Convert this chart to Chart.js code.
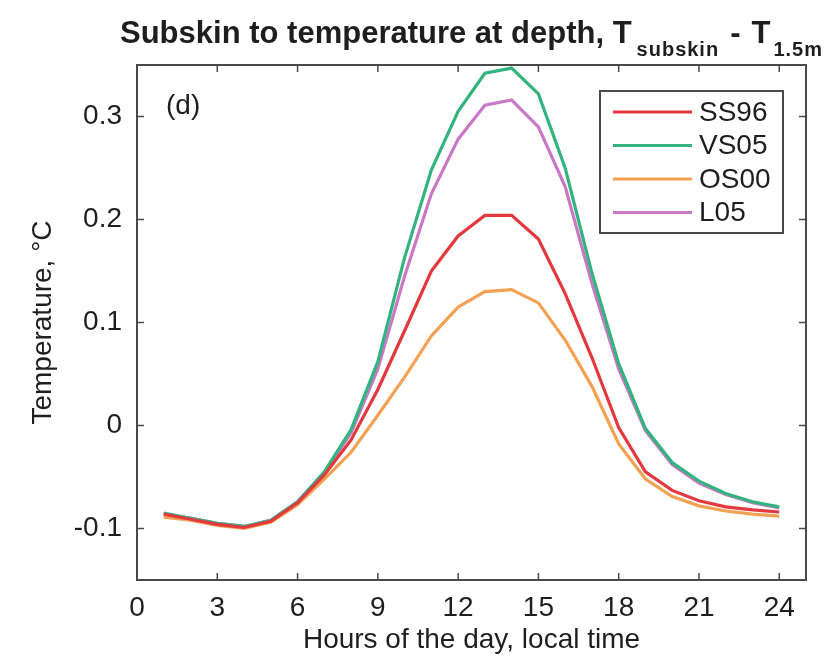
<!DOCTYPE html>
<html>
<head>
<meta charset="utf-8">
<title>Subskin to temperature at depth</title>
<script src="https://cdn.jsdelivr.net/npm/chart.js@4.4.1/dist/chart.umd.min.js"></script>
<style>
  html, body { margin: 0; padding: 0; background: #fff; }
  #wrap { width: 828px; height: 661px; }
</style>
</head>
<body>
<div id="wrap"><canvas id="chart" width="828" height="661"></canvas></div>
<script>
// data, hourly values (local time)
const hours = [1, 2, 3, 4, 5, 6, 7, 8, 9, 10, 11, 12, 13, 14, 15, 16, 17, 18, 19, 20, 21, 22, 23, 24];
const xTicks = [0, 3, 6, 9, 12, 15, 18, 21, 24];
const yTicks = [-0.1, 0, 0.1, 0.2, 0.3];
const seriesNames = ['SS96', 'VS05', 'OS00', 'L05'];

const ss96 = [-0.086, -0.091, -0.096, -0.099, -0.093, -0.075, -0.048, -0.014, 0.035, 0.092, 0.150, 0.184,
              0.204, 0.204, 0.181, 0.128, 0.066, -0.002, -0.045, -0.063, -0.073, -0.079, -0.082, -0.084];
const vs05 = [-0.085, -0.090, -0.095, -0.098, -0.092, -0.074, -0.045, -0.004, 0.062, 0.163, 0.248, 0.305,
              0.342, 0.347, 0.322, 0.250, 0.148, 0.060, -0.003, -0.036, -0.054, -0.066, -0.074, -0.079];
const os00 = [-0.089, -0.092, -0.097, -0.100, -0.094, -0.077, -0.052, -0.026, 0.010, 0.047, 0.087, 0.115,
              0.130, 0.132, 0.119, 0.083, 0.038, -0.018, -0.052, -0.069, -0.078, -0.083, -0.086, -0.088];
const l05  = [-0.086, -0.090, -0.095, -0.098, -0.092, -0.074, -0.046, -0.007, 0.055, 0.145, 0.225, 0.278,
              0.311, 0.316, 0.290, 0.232, 0.138, 0.055, -0.005, -0.038, -0.056, -0.067, -0.075, -0.080];

const colors = ['#e4383f', '#33b47f', '#f3a253', '#c978c6'];
const FONT = '"Liberation Sans", Arial, Helvetica, sans-serif';
const INK = '#1e1e1e';
const FRAME = '#4a4a4a';
const FS = 28;

function toPoints(vals) {
    return hours.map((h, i) => ({ x: h, y: vals[i] }));
}

// matlab-style box with inward ticks on all four sides
const boxFrame = {
    id: 'boxFrame',
    afterDatasetsDraw(chart) {
        const { ctx, chartArea: a, scales } = chart;
        const tl = 7;
        ctx.save();
        ctx.strokeStyle = FRAME;
        ctx.lineWidth = 2;
        ctx.strokeRect(a.left, a.top, a.right - a.left, a.bottom - a.top);
        ctx.lineWidth = 1.5;
        ctx.beginPath();
        scales.x.ticks.forEach(t => {
            const px = scales.x.getPixelForValue(t.value);
            ctx.moveTo(px, a.bottom); ctx.lineTo(px, a.bottom - tl);
            ctx.moveTo(px, a.top); ctx.lineTo(px, a.top + tl);
        });
        scales.y.ticks.forEach(t => {
            const py = scales.y.getPixelForValue(t.value);
            ctx.moveTo(a.left, py); ctx.lineTo(a.left + tl, py);
            ctx.moveTo(a.right, py); ctx.lineTo(a.right - tl, py);
        });
        ctx.stroke();

        // panel letter
        ctx.fillStyle = INK;
        ctx.font = FS + 'px ' + FONT;
        ctx.textBaseline = 'middle';
        ctx.fillText('(d)', a.left + 29, a.top + 41);
        ctx.restore();
    }
};

// legend box inside the axes, top right
const legendBox = {
    id: 'legendBox',
    afterDatasetsDraw(chart) {
        const { ctx, chartArea: a } = chart;
        const x0 = a.right - 206, y0 = a.top + 26, w = 183, h = 142;
        ctx.save();
        ctx.fillStyle = '#fff';
        ctx.fillRect(x0, y0, w, h);
        ctx.strokeStyle = FRAME;
        ctx.lineWidth = 2;
        ctx.strokeRect(x0, y0, w, h);
        ctx.font = FS + 'px ' + FONT;
        ctx.textBaseline = 'middle';
        chart.data.datasets.forEach((ds, i) => {
            const y = y0 + 21 + i * 33.5;
            ctx.strokeStyle = ds.borderColor;
            ctx.lineWidth = 3;
            ctx.beginPath();
            ctx.moveTo(x0 + 13, y);
            ctx.lineTo(x0 + 92, y);
            ctx.stroke();
            ctx.fillStyle = INK;
            ctx.fillText(ds.label, x0 + 99, y + 1);
        });
        ctx.restore();
    }
};

// title with subscripts, centred over the axes like matlab does
const subTitle = {
    id: 'subTitle',
    afterDraw(chart) {
        const { ctx, chartArea: a } = chart;
        const base = 43;
        const big = 'bold 31px ' + FONT, small = 'bold 20px ' + FONT;
        const parts = [
            ['Subskin to temperature at depth, T', big, 0, 5, '0px'],
            ['subskin', small, 13, 11, '1px'],
            ['-', big, 0, 11, '0px'],
            ['T', big, 0, 3, '0px'],
            ['1.5m', small, 13, 0, '1px']
        ];
        ctx.save();
        ctx.fillStyle = INK;
        ctx.textBaseline = 'alphabetic';
        let total = 0;
        const widths = parts.map(([txt, f, , gap, ls]) => {
            ctx.font = f;
            ctx.letterSpacing = ls;
            const w = ctx.measureText(txt).width;
            total += w + gap;
            return w;
        });
        let x = (a.left + a.right) / 2 - total / 2;
        parts.forEach(([txt, f, dy, gap, ls], i) => {
            ctx.font = f;
            ctx.letterSpacing = ls;
            ctx.fillText(txt, x, base + dy);
            x += widths[i] + gap;
        });
        ctx.restore();
    }
};

const ctx = document.getElementById('chart').getContext('2d');

const chart = new Chart(ctx, {
    type: 'line',
    data: {
        datasets: [
            { label: seriesNames[0], data: toPoints(ss96), borderColor: colors[0] },
            { label: seriesNames[1], data: toPoints(vs05), borderColor: colors[1] },
            { label: seriesNames[2], data: toPoints(os00), borderColor: colors[2] },
            { label: seriesNames[3], data: toPoints(l05), borderColor: colors[3] }
        ]
    },
    options: {
        responsive: false,
        animation: false,
        layout: { padding: { top: 65, right: 22, left: 0, bottom: 0 } },
        elements: {
            line: { borderWidth: 3.2, tension: 0, fill: false },
            point: { radius: 0 }
        },
        scales: {
            x: {
                type: 'linear',
                min: 0,
                max: 25,
                afterBuildTicks: s => { s.ticks = xTicks.map(v => ({ value: v })); },
                afterFit: s => { s.height = 81; },
                grid: { display: false, drawTicks: false },
                border: { display: false },
                ticks: { color: INK, font: { family: FONT, size: FS }, padding: 11, maxRotation: 0 },
                title: {
                    display: true,
                    text: 'Hours of the day, local time',
                    color: INK,
                    font: { family: FONT, size: FS },
                    padding: { top: 0, bottom: 4 }
                }
            },
            y: {
                min: -0.15,
                max: 0.35,
                afterBuildTicks: s => { s.ticks = yTicks.map(v => ({ value: v })); },
                afterFit: s => { s.width = 137; },
                grid: { display: false, drawTicks: false },
                border: { display: false },
                ticks: { color: INK, font: { family: FONT, size: FS }, padding: 15, callback: v => String(v) },
                title: {
                    display: true,
                    text: 'Temperature, °C',
                    color: INK,
                    font: { family: FONT, size: FS },
                    padding: { top: 26, bottom: 0 }
                }
            }
        },
        plugins: {
            legend: { display: false },
            tooltip: { enabled: false },
            title: { display: false }
        }
    },
    plugins: [boxFrame, legendBox, subTitle]
});
</script>
</body>
</html>
